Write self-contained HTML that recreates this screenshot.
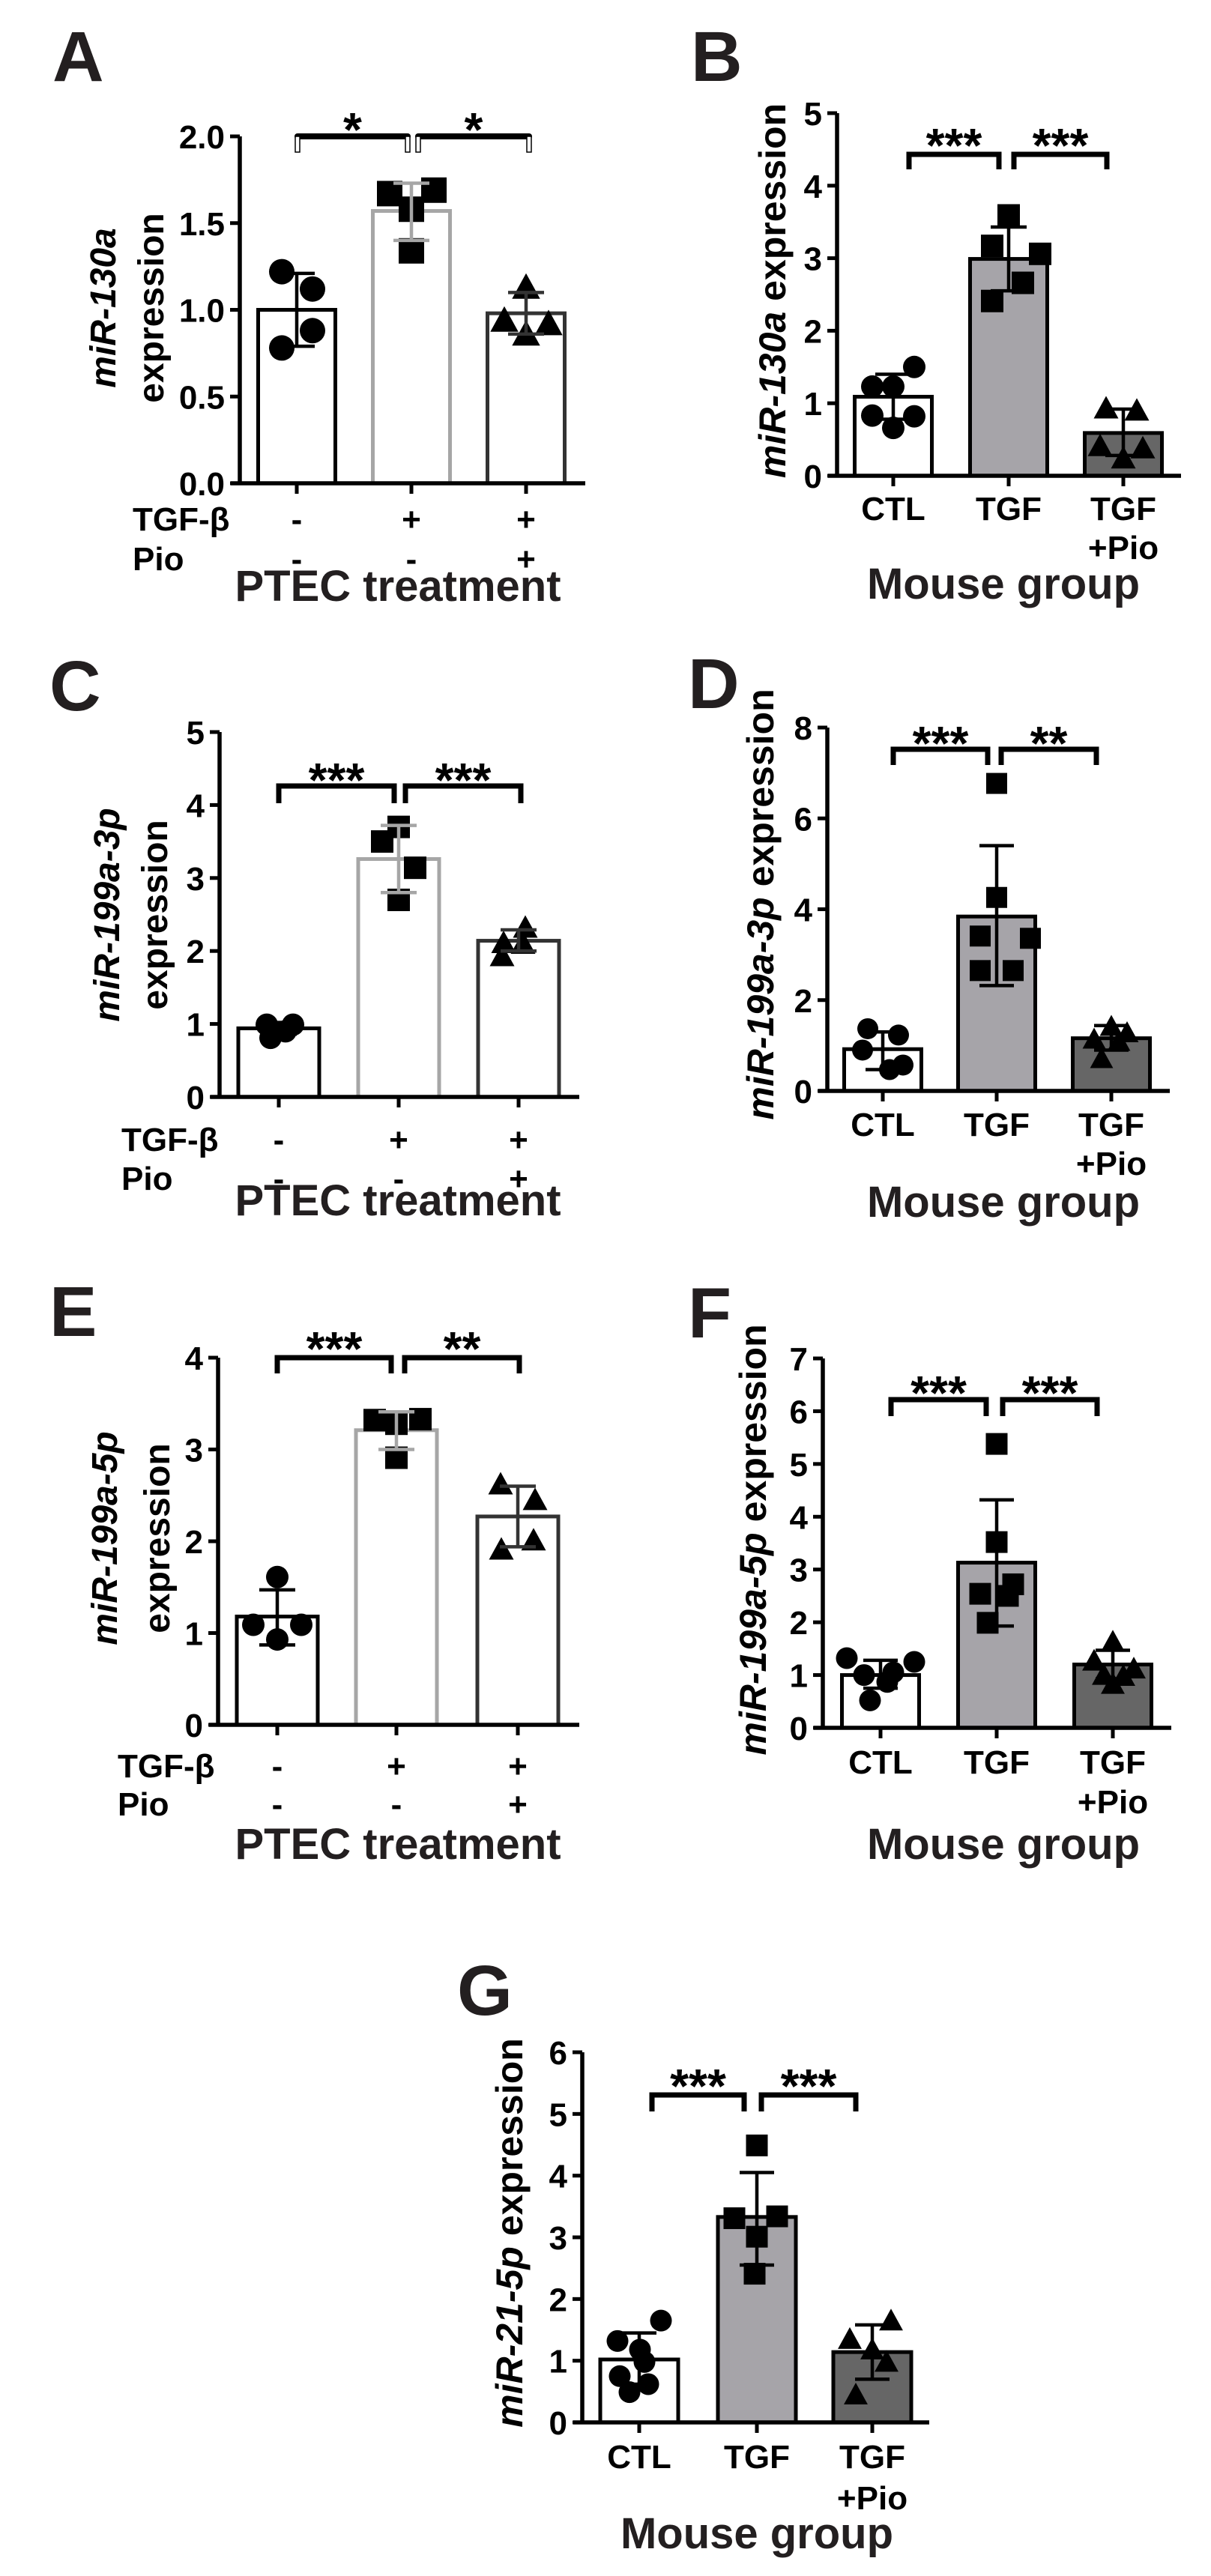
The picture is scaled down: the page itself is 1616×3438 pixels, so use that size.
<!DOCTYPE html>
<html><head><meta charset="utf-8"><style>
html,body{margin:0;padding:0;background:#fff;}
svg{display:block;font-family:"Liberation Sans",Arial,sans-serif;}
</style></head><body>
<svg id="fig" xmlns="http://www.w3.org/2000/svg" width="1616" height="3438" viewBox="0 0 1616 3438">
<rect width="1616" height="3438" fill="#fff"/>
<g font-weight="bold" font-size="95" fill="#231f20">
<text x="70" y="108">A</text>
<text x="922" y="108">B</text>
<text x="66" y="948">C</text>
<text x="918" y="945">D</text>
<text x="66" y="1783">E</text>
<text x="918" y="1785">F</text>
<text x="610" y="2689">G</text>
</g>
<g font-weight="bold" font-size="58" fill="#231f20" text-anchor="middle">
<text x="531" y="802">PTEC treatment</text>
<text x="1339" y="799">Mouse group</text>
<text x="531" y="1622">PTEC treatment</text>
<text x="1339" y="1624">Mouse group</text>
<text x="531" y="2481">PTEC treatment</text>
<text x="1339" y="2481">Mouse group</text>
<text x="1010" y="3401">Mouse group</text>
</g>
<g font-weight="bold" fill="#000" text-anchor="middle">
<text font-size="48" transform="translate(154,411) rotate(-90)"><tspan font-style="italic">miR-130a</tspan></text>
<text font-size="48" transform="translate(218,411) rotate(-90)">expression</text>
<text font-size="50" transform="translate(1048,388) rotate(-90)"><tspan font-style="italic">miR-130a</tspan> expression</text>
<text font-size="48" transform="translate(159,1221) rotate(-90)"><tspan font-style="italic">miR-199a-3p</tspan></text>
<text font-size="48" transform="translate(223,1221) rotate(-90)">expression</text>
<text font-size="50" transform="translate(1032,1207) rotate(-90)"><tspan font-style="italic">miR-199a-3p</tspan> expression</text>
<text font-size="48" transform="translate(156,2053) rotate(-90)"><tspan font-style="italic">miR-199a-5p</tspan></text>
<text font-size="48" transform="translate(226,2053) rotate(-90)">expression</text>
<text font-size="50" transform="translate(1022,2055) rotate(-90)"><tspan font-style="italic">miR-199a-5p</tspan> expression</text>
<text font-size="50" transform="translate(697,2980) rotate(-90)"><tspan font-style="italic">miR-21-5p</tspan> expression</text>
</g>
</svg>
<script>
// ---- Panel A data ----
const aTicks=[0,0.5,1,1.5,2];
const aTickLabels=["0.0","0.5","1.0","1.5","2.0"];
const aMeans=[1.0,1.57,0.98];
const aUpper=[1.21,1.73,1.10];
const aLower=[0.79,1.40,0.86];
const aValues=[[1.22,1.12,0.88,0.78],[1.67,1.69,1.58,1.34],[1.13,0.94,0.92,0.86]];
const aStars=["*","*"];
// ---- Panel B data ----
const bCategories=["CTL","TGF","TGF"];
const bTicks=[0,1,2,3,4,5];
const bTickLabels=["0","1","2","3","4","5"];
const bMeans=[1.09,2.99,0.59];
const bUpper=[1.40,3.43,0.92];
const bLower=[0.78,2.55,0.28];
const bValues=[[1.23,1.23,1.5,0.83,0.82,0.66],[3.59,3.17,3.06,2.66,2.41],[0.93,0.90,0.41,0.38,0.24]];
const bStars=["***","***"];
// ---- Panel C data ----
const cTicks=[0,1,2,3,4,5];
const cTickLabels=["0","1","2","3","4","5"];
const cMeans=[0.94,3.26,2.14];
const cUpper=[1.02,3.72,2.29];
const cLower=[0.86,2.80,2.0];
const cValues=[[0.99,0.99,0.81,0.9],[3.5,3.7,3.14,2.7],[2.11,2.32,1.93,2.1]];
const cStars=["***","***"];
// ---- Panel D data ----
const dTicks=[0,2,4,6,8];
const dTickLabels=["0","2","4","6","8"];
const dMeans=[0.92,3.84,1.16];
const dUpper=[1.30,5.40,1.44];
const dLower=[0.47,2.32,0.90];
const dValues=[[1.37,1.23,0.9,0.57,0.47],[6.77,4.26,3.41,3.36,2.65,2.65],[1.42,1.14,1.28,1.09,0.71]];
const dStars=["***","**"];
// ---- Panel E data ----
const eTicks=[0,1,2,3,4];
const eTickLabels=["0","1","2","3","4"];
const eMeans=[1.18,3.21,2.27];
const eUpper=[1.47,3.41,2.60];
const eLower=[0.87,3.0,1.94];
const eValues=[[1.61,1.09,1.09,0.93],[3.32,3.28,3.33,2.91],[2.62,2.45,2.01,1.91]];
const eStars=["***","**"];
// ---- Panel F data ----
const fTicks=[0,1,2,3,4,5,6,7];
const fTickLabels=["0","1","2","3","4","5","6","7"];
const fMeans=[1.0,3.13,1.2];
const fUpper=[1.28,4.32,1.47];
const fLower=[0.75,1.93,0.93];
const fValues=[[1.32,1.0,1.05,1.25,0.52,0.87],[5.38,3.52,2.54,2.72,2.5,1.99],[1.63,1.27,1.12,1.0,0.83,0.98]];
const fStars=["***","***"];
// ---- Panel G data ----
const gTicks=[0,1,2,3,4,5,6];
const gTickLabels=["0","1","2","3","4","5","6"];
const gMeans=[1.02,3.33,1.14];
const gUpper=[1.45,4.05,1.58];
const gLower=[0.62,2.55,0.70];
const gValues=[[1.32,1.65,1.18,0.98,0.75,0.62,0.49],[4.49,3.31,3.34,3.01,2.41],[1.65,1.35,1.18,0.98,0.45]];
const gStars=["***","***"];

const NS="http://www.w3.org/2000/svg";
const svg=document.getElementById('fig');
function mk(tag,attrs,parent){const e=document.createElementNS(NS,tag);for(const k in attrs)e.setAttribute(k,attrs[k]);(parent||svg).appendChild(e);return e;}

function drawPanel(id,L,ticks,tickLabels,means,upper,lower,values,stars){
  const g=mk('g',{});
  
  
  const ys=v=>L.y0-(v/L.ymax)*(L.y0-L.yTop);
  const mouse=L.type==='mouse';
  const barStroke=mouse?['#000','#000','#000']:['#000','#a6a6a6','#333'];
  const barFill=mouse?['#fff','#a6a4a9','#666']:['#fff','#fff','#fff'];
  const errStroke=mouse?['#000','#000','#000']:['#000','#a6a6a6','#333'];
  const names=['ctl','tgf','tgf-pio'];
  for(let i=0;i<means.length;i++){
    const c=L.centers[i],w=L.bw,top=ys(means[i]);
    const r=mk('rect',{x:c-w/2,y:top,width:w,height:L.y0-top,fill:barFill[i],stroke:barStroke[i],'stroke-width':5},g);
    
    
  }
  for(let i=0;i<values.length;i++){
    const c=L.centers[i],s=L.ms;
    values[i].forEach((v,j)=>{
      const x=c+(L.jit[i][j]||0),y=ys(v);
      let p;
      if(i===0)p=mk('circle',{cx:x,cy:y,r:s/2,fill:'#000'},g);
      else if(i===1)p=mk('rect',{x:x-s/2,y:y-s/2,width:s,height:s,fill:'#000'},g);
      else p=mk('polygon',{points:`${x},${y-s*0.55} ${x-s*0.55},${y+s*0.45} ${x+s*0.55},${y+s*0.45}`,fill:'#000'},g);
      
      
    });
  }
  for(let i=0;i<means.length;i++){
    const c=L.centers[i],hw=L.cap/2,yu=ys(upper[i]),yl=ys(lower[i]);
    const e=mk('path',{d:`M${c},${yu}V${yl}M${c-hw},${yu}H${c+hw}M${c-hw},${yl}H${c+hw}`,stroke:errStroke[i],'stroke-width':4.5,fill:'none'},g);
    
    
  }
  const ax=mk('path',{d:`M${L.ax},${L.yTop}V${L.y0}M${L.ax-12},${L.y0}H${L.xEnd}`,stroke:'#000','stroke-width':5.5,fill:'none'},g);
  
  
  ticks.forEach((t,k)=>{
    const y=ys(t);
    mk('line',{x1:L.ax-13,x2:L.ax,y1:y,y2:y,stroke:'#000','stroke-width':5},g);
    const tl=mk('text',{x:L.ax-20,y:y+16,'font-size':44,'font-weight':'bold','text-anchor':'end',fill:'#000'},g);
    tl.textContent=tickLabels[k];
    
    
  });
  L.centers.forEach(c=>mk('line',{x1:c,x2:c,y1:L.y0,y2:L.y0+14,stroke:'#000','stroke-width':5},g));
  if(mouse){
    L.centers.forEach((c,i)=>{
      const t=mk('text',{x:c,y:L.lab1,'font-size':44,'font-weight':'bold','text-anchor':'middle',fill:'#000'},g);
      t.textContent=bCategories[i];
      
      
    });
    const t2=mk('text',{x:L.centers[2],y:L.lab2,'font-size':44,'font-weight':'bold','text-anchor':'middle',fill:'#000'},g);
    t2.textContent='+Pio';
    
    
  } else {
    const rows=[['TGF-β',['-','+','+']],['Pio',['-','-','+']]];
    rows.forEach((r,ri)=>{
      const y=ri?L.lab2:L.lab1;
      const t=mk('text',{x:L.labX,y:y,'font-size':44,'font-weight':'bold',fill:'#000'},g);
      t.textContent=r[0];
      
      
      r[1].forEach((s,i)=>{
        const u=mk('text',{x:L.centers[i],y:y,'font-size':44,'font-weight':'bold','text-anchor':'middle',fill:'#000'},g);
        u.textContent=s;
        
        
      });
    });
  }
  L.br.forEach((b,k)=>{
    if(L.hook){
      mk('line',{x1:b[0],x2:b[1],y1:L.bY,y2:L.bY,stroke:'#000','stroke-width':8,'stroke-linecap':'round'},g);
      mk('rect',{x:b[0]-3,y:L.bY,width:6,height:L.bLeg-L.bY,fill:'#fff',stroke:'#000','stroke-width':1.5},g);
      mk('rect',{x:b[1]-3,y:L.bY,width:6,height:L.bLeg-L.bY,fill:'#fff',stroke:'#000','stroke-width':1.5},g);
    } else {
      const p=mk('path',{d:`M${b[0]},${L.bLeg}V${L.bY}H${b[1]}V${L.bLeg}`,stroke:'#000','stroke-width':7,fill:'none'},g);
      
      
    }
    const st=mk('text',{x:(b[0]+b[1])/2,y:L.sY+37,'font-size':64,'font-weight':'bold','text-anchor':'middle',fill:'#000'},g);
    st.textContent=stars[k];
    
    
  });
}

drawPanel('a',{type:'ptec',ax:320,y0:645,yTop:182,ymax:2,xEnd:781,centers:[396,549,702],bw:103,ms:34,cap:48,
  jit:[[-20,21,21,-20],[-29,30,0,0],[0,-29,30,0]],labX:177,lab1:708,lab2:761,hook:true,bY:182,bLeg:203,sY:158,br:[[397,544],[558,706]]},
  aTicks,aTickLabels,aMeans,aUpper,aLower,aValues,aStars);
drawPanel('b',{type:'mouse',ax:1117,y0:635,yTop:151,ymax:5,xEnd:1576,centers:[1192,1346,1499],bw:103,ms:30,cap:48,
  jit:[[-28,0,28,-28,28,0],[0,-22,42,19,-22],[-23,18,-31,26,0]],lab1:694,lab2:746,bY:206,bLeg:226,sY:179,br:[[1213,1333],[1353,1477]]},
  bTicks,bTickLabels,bMeans,bUpper,bLower,bValues,bStars);
drawPanel('c',{type:'ptec',ax:293,y0:1464,yTop:977,ymax:5,xEnd:773,centers:[372,532,692],bw:108,ms:30,cap:48,
  jit:[[-16,19,-11,9],[-22,0,22,0],[-20,9,-22,6]],labX:162,lab1:1536,lab2:1588,bY:1049,bLeg:1072,sY:1026,br:[[372,526],[541,695]]},
  cTicks,cTickLabels,cMeans,cUpper,cLower,cValues,cStars);
drawPanel('d',{type:'mouse',ax:1104,y0:1456,yTop:971,ymax:8,xEnd:1561,centers:[1178,1330,1483],bw:103,ms:28,cap:46,
  jit:[[-20,21,-27,27,9],[0,0,-22,45,-22,22],[0,-23,21,10,-13]],lab1:1516,lab2:1568,bY:1000,bLeg:1021,sY:977,br:[[1192,1318],[1336,1463]]},
  dTicks,dTickLabels,dMeans,dUpper,dLower,dValues,dStars);
drawPanel('e',{type:'ptec',ax:291,y0:2302,yTop:1812,ymax:4,xEnd:773,centers:[370,529,691],bw:108,ms:30,cap:48,
  jit:[[0,-32,32,0],[-29,0,32,0],[-23,23,21,-22]],labX:157,lab1:2372,lab2:2423,bY:1812,bLeg:1833,sY:1785,br:[[370,522],[540,693]]},
  eTicks,eTickLabels,eMeans,eUpper,eLower,eValues,eStars);
drawPanel('f',{type:'mouse',ax:1098,y0:2306,yTop:1813,ymax:7,xEnd:1563,centers:[1175,1330,1485],bw:103,ms:29,cap:46,
  jit:[[-45,-22,17,45,-14,9],[0,0,-22,22,15,-12],[0,-25,28,-12,0,14]],lab1:2367,lab2:2420,bY:1868,bLeg:1890,sY:1844,br:[[1189,1316],[1338,1464]]},
  fTicks,fTickLabels,fMeans,fUpper,fLower,fValues,fStars);
drawPanel('g',{type:'mouse',ax:777,y0:3233,yTop:2739,ymax:6,xEnd:1240,centers:[853,1010,1164],bw:104,ms:29,cap:46,
  jit:[[-29,29,1,7,-26,12,-13],[0,-30,27,0,-3],[25,-30,0,19,-22]],lab1:3294,lab2:3349,bY:2796,bLeg:2818,sY:2769,br:[[870,993],[1016,1142]]},
  gTicks,gTickLabels,gMeans,gUpper,gLower,gValues,gStars);
</script>
</body></html>
